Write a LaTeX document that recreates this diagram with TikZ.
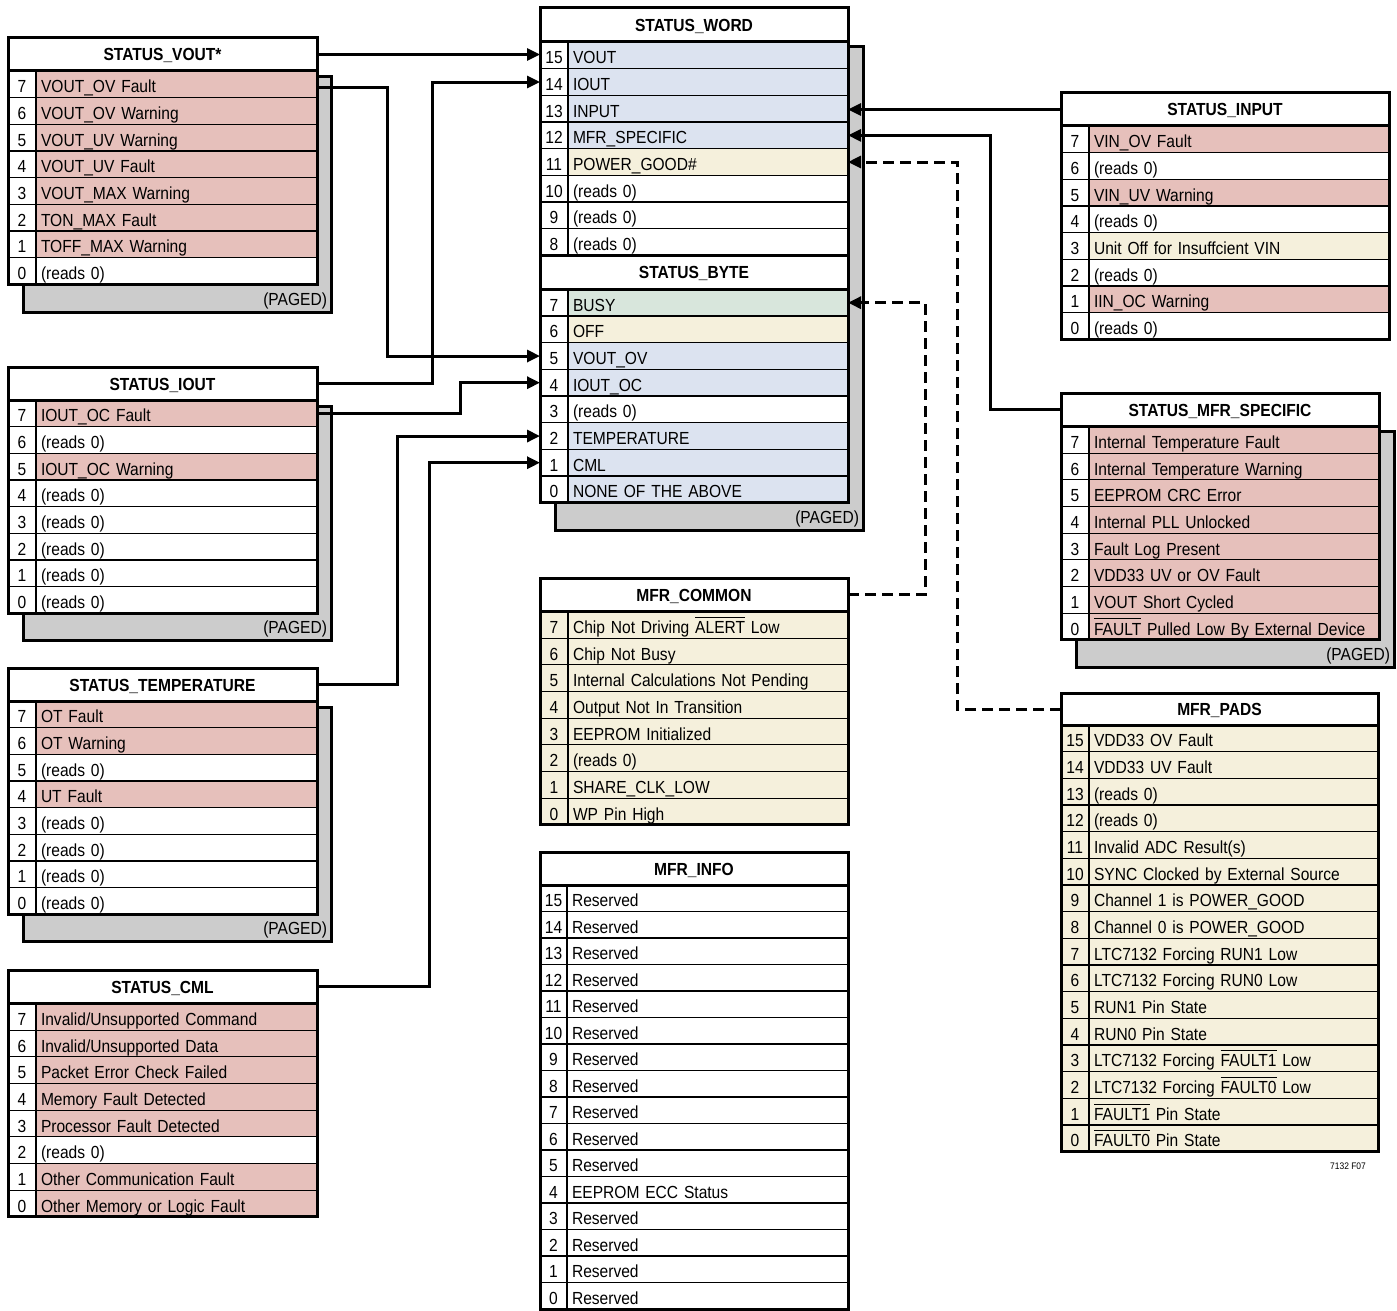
\documentclass[tikz,border=0pt]{standalone}
\usepackage{fontspec}
\setmainfont{Liberation Sans}[FakeStretch=0.89]
\usetikzlibrary{arrows.meta,calc}
\definecolor{cred}{HTML}{E6C0BB}
\definecolor{cblue}{HTML}{DCE3F0}
\definecolor{cyel}{HTML}{F5F0DC}
\definecolor{cgrn}{HTML}{D8E6DC}
\definecolor{cwht}{HTML}{FFFFFF}
\definecolor{cshadow}{HTML}{CCCCCC}
\newsavebox\ovlbox
\newcommand\ovl[1]{\sbox\ovlbox{#1}\rlap{\rule[15.6pt]{\wd\ovlbox}{1.1pt}}\usebox\ovlbox}
\newcommand\RH{26.67}
\newcommand\regtitle[7]{%
  \node[titlebox, minimum width=#4pt, minimum height=#5pt, anchor=north west] (#1) at (#2,#3) {#7};
  \xdef\rgx{#2}\xdef\rgw{#4}\xdef\rgn{#6}\xdef\rgname{#1}%
  \pgfmathsetmacro\rgtmp{#3+#5}\xdef\rgy{\rgtmp}%
  \xdef\rgtop{#3}%
}
\newcommand\regrow[3]{%
  \node[numcell, fill=\rgnf, minimum width=\rgn pt, anchor=north west] (\rgname n#2) at (\rgx,\rgy) {#2};
  \pgfmathsetmacro\rgtw{\rgw-\rgn-10}%
  \node[txtcell, fill=#1, text width=\rgtw pt, anchor=north west] (\rgname r#2) at (\rgx+\rgn,\rgy) {#3};
  \pgfmathsetmacro\rgtmp{\rgy+\RH}\xdef\rgy{\rgtmp}%
}
\newcommand\regend{%
  \draw[outerbox] (\rgx,\rgtop) rectangle (\rgx+\rgw,\rgy);
  \draw[outerbox] (\rgname.south west) -- (\rgname.south east);
}
\newcommand\regshadow[5]{%
  \path[shadowbox] (#2,#3) rectangle (#4,#5);
  \node[anchor=base east] (#1) at (#4-4,#5-7) {(PAGED)};
}
\xdef\rgnf{white}
\begin{document}
\begin{tikzpicture}[x=1pt,y=-1pt,
  every node/.style={font=\fontsize{17.5}{21}\selectfont, inner sep=0pt, outer sep=0pt},
  titlebox/.style={draw, line width=3pt, fill=white, font=\fontsize{17.5}{21}\selectfont\bfseries, text height=13pt, text depth=0pt},
  numcell/.style={draw, line width=1.2pt, minimum height=26.67pt, text height=17pt, text depth=0pt, align=center},
  txtcell/.style={draw, line width=1.2pt, minimum height=26.67pt, inner xsep=5pt, text height=17pt, text depth=0pt, align=left},
  outerbox/.style={draw, line width=3pt},
  shadowbox/.style={draw, line width=3pt, fill=cshadow},
  conn/.style={line width=3pt, -{Triangle[length=13pt,width=12pt]}},
  dconn/.style={conn, dash pattern=on 11pt off 6pt},
]
\useasboundingbox (0,0) rectangle (1397,1311);

% shadows
\regshadow{pvout}{23}{77}{331}{312}
\regshadow{piout}{23}{406}{331}{640}
\regshadow{ptemp}{23}{707}{331}{941}
\regshadow{psw}{555}{47}{863}{530}
\regshadow{pmfrs}{1076}{431}{1394}{667}

% STATUS_VOUT*
\regtitle{vout}{8}{38}{309}{33}{28}{STATUS\_VOUT*}
\regrow{cred}{7}{VOUT\_OV Fault}
\regrow{cred}{6}{VOUT\_OV Warning}
\regrow{cred}{5}{VOUT\_UV Warning}
\regrow{cred}{4}{VOUT\_UV Fault}
\regrow{cred}{3}{VOUT\_MAX Warning}
\regrow{cred}{2}{TON\_MAX Fault}
\regrow{cred}{1}{TOFF\_MAX Warning}
\regrow{cwht}{0}{(reads 0)}
\regend

% STATUS_IOUT
\regtitle{iout}{8}{367}{309}{33}{28}{STATUS\_IOUT}
\regrow{cred}{7}{IOUT\_OC Fault}
\regrow{cwht}{6}{(reads 0)}
\regrow{cred}{5}{IOUT\_OC Warning}
\regrow{cwht}{4}{(reads 0)}
\regrow{cwht}{3}{(reads 0)}
\regrow{cwht}{2}{(reads 0)}
\regrow{cwht}{1}{(reads 0)}
\regrow{cwht}{0}{(reads 0)}
\regend

% STATUS_TEMPERATURE
\regtitle{temp}{8}{668}{309}{33}{28}{STATUS\_TEMPERATURE}
\regrow{cred}{7}{OT Fault}
\regrow{cred}{6}{OT Warning}
\regrow{cwht}{5}{(reads 0)}
\regrow{cred}{4}{UT Fault}
\regrow{cwht}{3}{(reads 0)}
\regrow{cwht}{2}{(reads 0)}
\regrow{cwht}{1}{(reads 0)}
\regrow{cwht}{0}{(reads 0)}
\regend

% STATUS_CML
\regtitle{cml}{8}{970}{309}{33.5}{28}{STATUS\_CML}
\regrow{cred}{7}{Invalid/Unsupported Command}
\regrow{cred}{6}{Invalid/Unsupported Data}
\regrow{cred}{5}{Packet Error Check Failed}
\regrow{cred}{4}{Memory Fault Detected}
\regrow{cred}{3}{Processor Fault Detected}
\regrow{cwht}{2}{(reads 0)}
\regrow{cred}{1}{Other Communication Fault}
\regrow{cred}{0}{Other Memory or Logic Fault}
\regend

% STATUS_WORD
\regtitle{sw}{540}{8}{308}{34}{28}{STATUS\_WORD}
\regrow{cblue}{15}{VOUT}
\regrow{cblue}{14}{IOUT}
\regrow{cblue}{13}{INPUT}
\regrow{cblue}{12}{MFR\_SPECIFIC}
\regrow{cyel}{11}{POWER\_GOOD\#}
\regrow{cwht}{10}{(reads 0)}
\regrow{cwht}{9}{(reads 0)}
\regrow{cwht}{8}{(reads 0)}
\regend

% STATUS_BYTE
\regtitle{sb}{540}{\rgy}{308}{34}{28}{STATUS\_BYTE}
\regrow{cgrn}{7}{BUSY}
\regrow{cyel}{6}{OFF}
\regrow{cblue}{5}{VOUT\_OV}
\regrow{cblue}{4}{IOUT\_OC}
\regrow{cwht}{3}{(reads 0)}
\regrow{cblue}{2}{TEMPERATURE}
\regrow{cblue}{1}{CML}
\regrow{cblue}{0}{NONE OF THE ABOVE}
\regend

% MFR_COMMON
\xdef\rgnf{cyel}
\regtitle{mc}{540}{578}{308}{33.5}{28}{MFR\_COMMON}
\regrow{cyel}{7}{Chip Not Driving \ovl{ALERT} Low}
\regrow{cyel}{6}{Chip Not Busy}
\regrow{cyel}{5}{Internal Calculations Not Pending}
\regrow{cyel}{4}{Output Not In Transition}
\regrow{cyel}{3}{EEPROM Initialized}
\regrow{cyel}{2}{(reads 0)}
\regrow{cyel}{1}{SHARE\_CLK\_LOW}
\regrow{cyel}{0}{WP Pin High}
\regend

% MFR_INFO
\xdef\rgnf{white}
\renewcommand\RH{26.5}
\regtitle{mi}{540}{852}{308}{33}{27}{MFR\_INFO}
\regrow{cwht}{15}{Reserved}
\regrow{cwht}{14}{Reserved}
\regrow{cwht}{13}{Reserved}
\regrow{cwht}{12}{Reserved}
\regrow{cwht}{11}{Reserved}
\regrow{cwht}{10}{Reserved}
\regrow{cwht}{9}{Reserved}
\regrow{cwht}{8}{Reserved}
\regrow{cwht}{7}{Reserved}
\regrow{cwht}{6}{Reserved}
\regrow{cwht}{5}{Reserved}
\regrow{cwht}{4}{EEPROM ECC Status}
\regrow{cwht}{3}{Reserved}
\regrow{cwht}{2}{Reserved}
\regrow{cwht}{1}{Reserved}
\regrow{cwht}{0}{Reserved}
\regend
\renewcommand\RH{26.67}

% STATUS_INPUT
\regtitle{inp}{1061}{93}{328}{33}{28}{STATUS\_INPUT}
\regrow{cred}{7}{VIN\_OV Fault}
\regrow{cwht}{6}{(reads 0)}
\regrow{cred}{5}{VIN\_UV Warning}
\regrow{cwht}{4}{(reads 0)}
\regrow{cyel}{3}{Unit Off for Insuffcient VIN}
\regrow{cwht}{2}{(reads 0)}
\regrow{cred}{1}{IIN\_OC Warning}
\regrow{cwht}{0}{(reads 0)}
\regend

% STATUS_MFR_SPECIFIC
\regtitle{mfrs}{1061}{393}{318}{33.5}{28}{STATUS\_MFR\_SPECIFIC}
\regrow{cred}{7}{Internal Temperature Fault}
\regrow{cred}{6}{Internal Temperature Warning}
\regrow{cred}{5}{EEPROM CRC Error}
\regrow{cred}{4}{Internal PLL Unlocked}
\regrow{cred}{3}{Fault Log Present}
\regrow{cred}{2}{VDD33 UV or OV Fault}
\regrow{cred}{1}{VOUT Short Cycled}
\regrow{cred}{0}{\ovl{FAULT} Pulled Low By External Device}
\regend

% MFR_PADS
\xdef\rgnf{cyel}
\regtitle{pads}{1061}{693}{317}{32}{28}{MFR\_PADS}
\regrow{cyel}{15}{VDD33 OV Fault}
\regrow{cyel}{14}{VDD33 UV Fault}
\regrow{cyel}{13}{(reads 0)}
\regrow{cyel}{12}{(reads 0)}
\regrow{cyel}{11}{Invalid ADC Result(s)}
\regrow{cyel}{10}{SYNC Clocked by External Source}
\regrow{cyel}{9}{Channel 1 is POWER\_GOOD}
\regrow{cyel}{8}{Channel 0 is POWER\_GOOD}
\regrow{cyel}{7}{LTC7132 Forcing RUN1 Low}
\regrow{cyel}{6}{LTC7132 Forcing RUN0 Low}
\regrow{cyel}{5}{RUN1 Pin State}
\regrow{cyel}{4}{RUN0 Pin State}
\regrow{cyel}{3}{LTC7132 Forcing \ovl{FAULT1} Low}
\regrow{cyel}{2}{LTC7132 Forcing \ovl{FAULT0} Low}
\regrow{cyel}{1}{\ovl{FAULT1} Pin State}
\regrow{cyel}{0}{\ovl{FAULT0} Pin State}
\regend

\node[font=\fontsize{9.5}{11}\selectfont, anchor=base] (fig) at (1348,1169) {7132 F07};

% connectors
\draw[conn] (vout.east) -- (vout.east -| swn15.west);
\draw[conn] ($(voutr7.east)+(0,3)$) -- ++(70,0) |- (sbn5.west);
\draw[conn] (iout.east) -- ++(115,0) |- (swn14.west);
\draw[conn] (ioutr7.east) -- ++(143,0) |- (sbn4.west);
\draw[conn] (temp.east) -- ++(80,0) |- (sbn2.west);
\draw[conn] (cml.east) -- ++(112,0) |- (sbn1.west);
\draw[conn] (inp.west) -- (inp.west -| swr13.east);
\draw[conn] (mfrs.west) -- ++(-71,0) |- (swr12.east);
\draw[dconn] (pads.west) -- ++(-104,0) |- (swr11.east);
\draw[dconn] (mc.east) -- ++(77,0) |- (sbr7.east);
\end{tikzpicture}
\end{document}
